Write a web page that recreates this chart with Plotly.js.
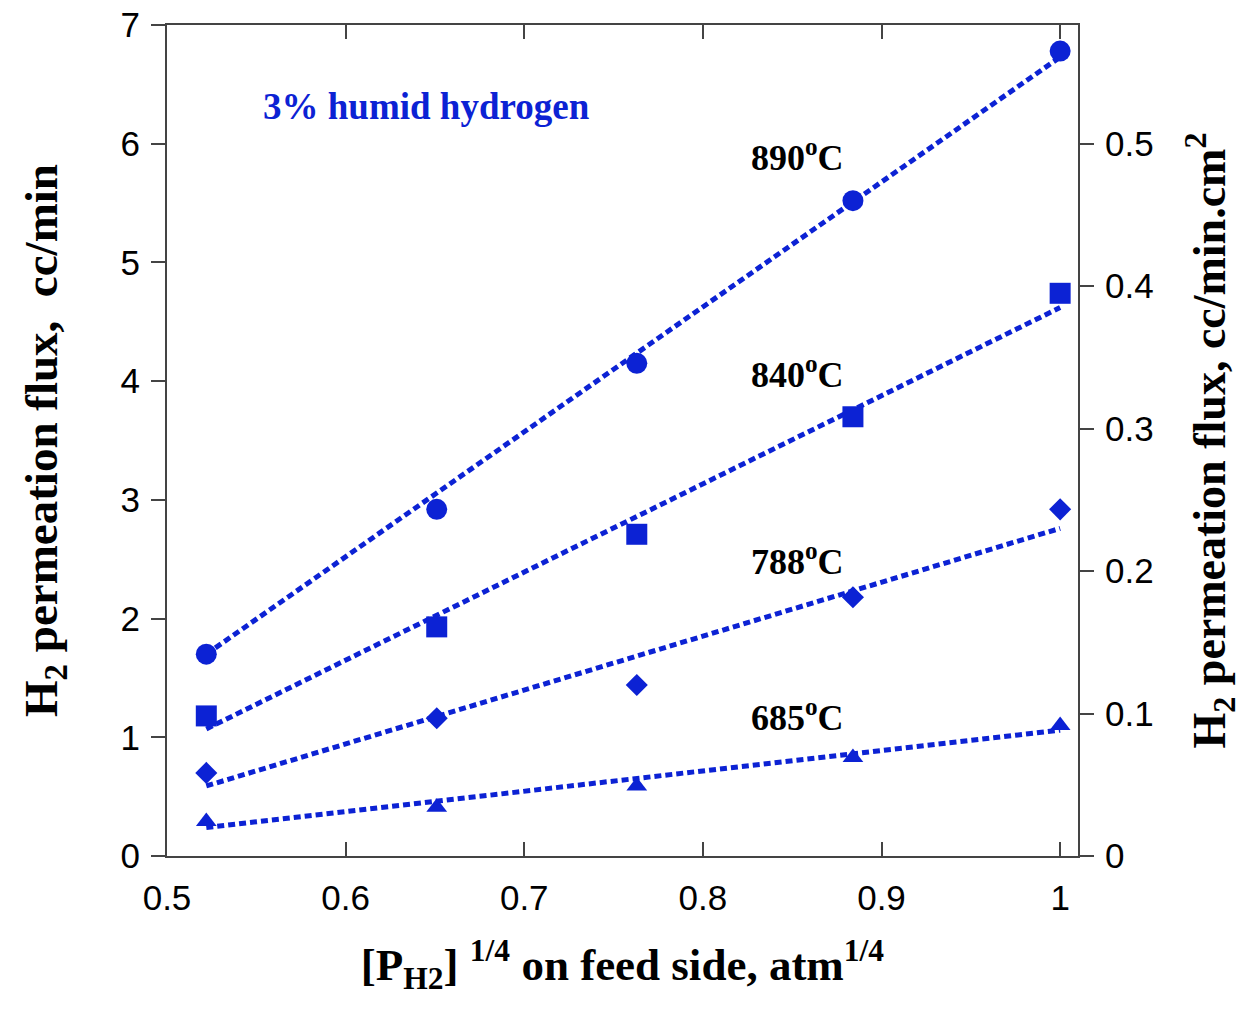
<!DOCTYPE html>
<html>
<head>
<meta charset="utf-8">
<script src="https://cdn.plot.ly/plotly-3.0.1.min.js"></script>
<style>html,body{margin:0;padding:0;background:#fff;}#chart{width:1251px;height:1013px;}</style>
</head>
<body>
<div id="chart"></div>
<script>
// Data
const pressureRoot = [0.522, 0.651, 0.763, 0.884, 1.0];
const flux890 = [1.70, 2.92, 4.15, 5.52, 6.78];
const flux840 = [1.18, 1.93, 2.71, 3.70, 4.74];
const flux788 = [0.70, 1.16, 1.44, 2.18, 2.92];
const flux685 = [0.29, 0.41, 0.59, 0.83, 1.10];

// Fitted (dotted) lines: end points
const fitX = [0.522, 1.0];
const fit890 = [1.70, 6.73];
const fit840 = [1.07, 4.62];
const fit788 = [0.59, 2.76];
const fit685 = [0.24, 1.06];

const tempLabels = ["890<sup>o</sup>C", "840<sup>o</sup>C", "788<sup>o</sup>C", "685<sup>o</sup>C"];
const tempLabelY = [5.90, 4.07, 2.50, 1.18];
const noteText = "3% humid hydrogen";

const blue = "#0c22d4";
const serif = "Liberation Serif, Times New Roman, serif";
const sans = "Liberation Sans, Arial, sans-serif";

function fitTrace(y) {
  return {x: fitX, y: y, mode: "lines", type: "scatter",
    line: {color: blue, width: 5, dash: "7px,4px"}, hoverinfo: "skip", showlegend: false};
}
function ptTrace(y, sym, size) {
  return {x: pressureRoot, y: y, mode: "markers", type: "scatter",
    marker: {color: blue, symbol: sym, size: size, line: {width: 0}}, showlegend: false};
}

const traces = [
  fitTrace(fit890), fitTrace(fit840), fitTrace(fit788), fitTrace(fit685),
  ptTrace(flux890, "circle", 21), ptTrace(flux840, "square", 21),
  ptTrace(flux788, "diamond", 17), ptTrace(flux685, "triangle-up", 18),
  {x: [], y: [], yaxis: "y2", type: "scatter", showlegend: false}
];

const annotations = tempLabels.map((t, i) => ({
  x: 0.853, y: tempLabelY[i], xref: "x", yref: "y", text: "<b>" + t + "</b>", showarrow: false,
  font: {family: serif, size: 36, color: "#000"}, xanchor: "center", yanchor: "middle"
}));
annotations.push({
  x: 0.6455, y: 6.31, xref: "x", yref: "y", text: "<b>" + noteText + "</b>", showarrow: false,
  font: {family: serif, size: 37, color: blue}, xanchor: "center", yanchor: "middle"
});

const layout = {
  width: 1251, height: 1013,
  margin: {l: 167, r: 173, t: 25, b: 157},
  paper_bgcolor: "#fff", plot_bgcolor: "#fff",
  showlegend: false,
  font: {family: sans, color: "#000"},
  xaxis: {
    range: [0.5, 1.01], tickvals: [0.5, 0.6, 0.7, 0.8, 0.9, 1.0],
    ticktext: ["0.5", "0.6", "0.7", "0.8", "0.9", "1"],
    ticks: "inside", ticklen: 14, tickwidth: 2, tickcolor: "#444",
    showline: true, linewidth: 2, linecolor: "#444", mirror: "ticks",
    showgrid: false, zeroline: false, ticklabelstandoff: 10,
    tickfont: {family: sans, size: 35, color: "#000"},
    title: {text: "<b>[P<sub>H2</sub>] <sup>1/4</sup> on feed side, atm<sup>1/4</sup></b>",
      font: {family: serif, size: 45, color: "#000"}, standoff: 32}
  },
  yaxis: {
    range: [0, 7], tickvals: [0, 1, 2, 3, 4, 5, 6, 7],
    ticks: "outside", ticklen: 14, tickwidth: 2, tickcolor: "#444",
    showline: true, linewidth: 2, linecolor: "#444", mirror: true,
    showgrid: false, zeroline: false, ticklabelstandoff: 4,
    tickfont: {family: sans, size: 35, color: "#000"},
    title: {text: "<b>H<sub>2</sub> permeation flux,  cc/min</b>",
      font: {family: serif, size: 47, color: "#000"}, standoff: 48}
  },
  yaxis2: {
    overlaying: "y", side: "right", range: [0, 7 / 12],
    tickvals: [0, 0.1, 0.2, 0.3, 0.4, 0.5], ticktext: ["0", "0.1", "0.2", "0.3", "0.4", "0.5"],
    ticks: "outside", ticklen: 14, tickwidth: 2, tickcolor: "#444",
    showline: true, linewidth: 2, linecolor: "#444",
    showgrid: false, zeroline: false, ticklabelstandoff: 4,
    tickfont: {family: sans, size: 35, color: "#000"},
    title: {text: "<b>H<sub>2</sub> permeation flux, cc/min.cm<sup>2</sup></b>",
      font: {family: serif, size: 46, color: "#000"}, standoff: 40}
  },
  annotations: annotations
};

Plotly.newPlot("chart", traces, layout, {displayModeBar: false, staticPlot: true});
</script>
</body>
</html>
